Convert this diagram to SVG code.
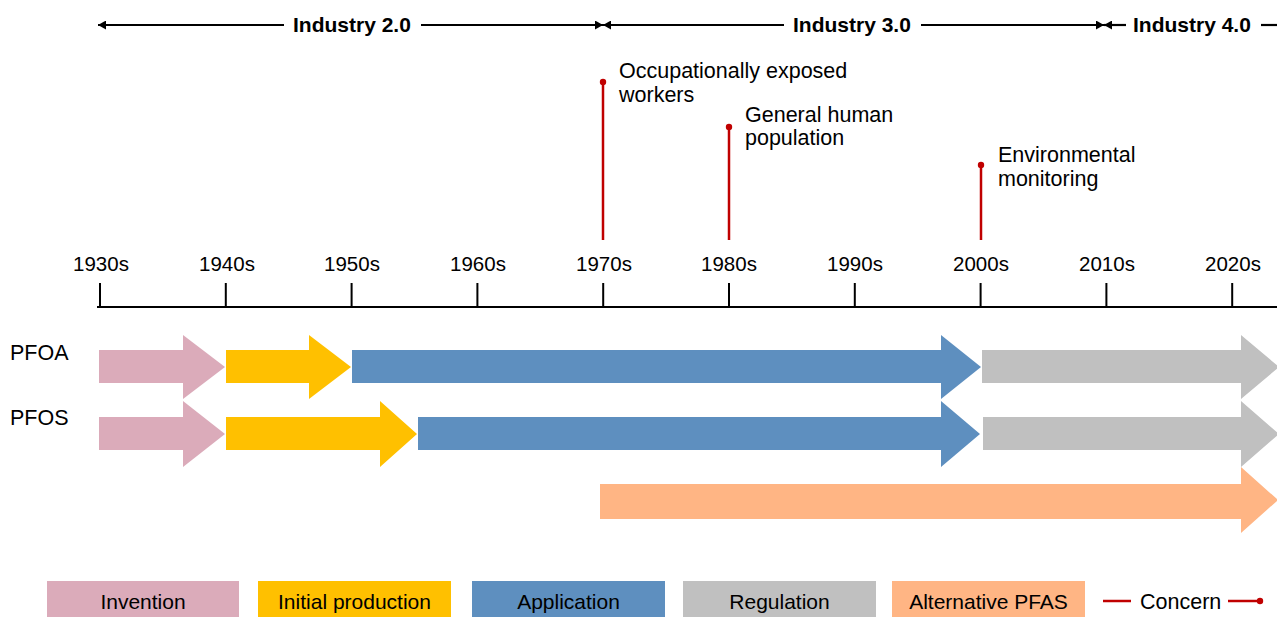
<svg xmlns="http://www.w3.org/2000/svg" width="1277" height="617" viewBox="0 0 1277 617">
  <style>
    text { font-family: "Liberation Sans", Arial, sans-serif; fill: #000; }
    .era { font-size: 21px; font-weight: bold; }
    .yr { font-size: 20.5px; text-anchor: middle; }
    .lbl { font-size: 21.5px; }
    .leg { font-size: 21px; text-anchor: middle; }
    .era-line { stroke: #000; stroke-width: 2.2; fill: none; }
    .axis { stroke: #000; stroke-width: 2; fill: none; }
    .concern { stroke: #C00000; stroke-width: 2.5; fill: none; }
    .inv { fill: #DBABBA; }
    .prod { fill: #FFC000; }
    .app { fill: #5E8FBF; }
    .reg { fill: #C0C0C0; }
    .alt { fill: #FFB584; }
  </style>
  <defs>
    <marker id="ahR" viewBox="0 0 8 8" refX="8" refY="4" markerWidth="8" markerHeight="9" markerUnits="userSpaceOnUse" orient="auto" preserveAspectRatio="none">
      <path d="M0,0 L8,4 L0,8 Z" fill="#000"/>
    </marker>
    <marker id="ahL" viewBox="0 0 8 8" refX="0" refY="4" markerWidth="8" markerHeight="9" markerUnits="userSpaceOnUse" orient="auto" preserveAspectRatio="none">
      <path d="M8,0 L0,4 L8,8 Z" fill="#000"/>
    </marker>
  </defs>

  <!-- era spans -->
  <g id="era-industry-2">
    <line class="era-line" x1="98" y1="25" x2="284" y2="25" marker-start="url(#ahL)"/>
    <text class="era" x="293" y="32">Industry 2.0</text>
    <line class="era-line" x1="421" y1="25" x2="603" y2="25" marker-end="url(#ahR)"/>
  </g>
  <g id="era-industry-3">
    <line class="era-line" x1="603" y1="25" x2="784" y2="25" marker-start="url(#ahL)"/>
    <text class="era" x="793" y="32">Industry 3.0</text>
    <line class="era-line" x1="921" y1="25" x2="1104" y2="25" marker-end="url(#ahR)"/>
  </g>
  <g id="era-industry-4">
    <line class="era-line" x1="1104" y1="25" x2="1126" y2="25" marker-start="url(#ahL)"/>
    <text class="era" x="1133" y="32">Industry 4.0</text>
    <line class="era-line" x1="1261" y1="25" x2="1277" y2="25"/>
  </g>

  <!-- concern markers -->
  <g id="concern-workers">
    <line class="concern" x1="603" y1="82" x2="603" y2="240"/>
    <circle cx="603" cy="82" r="3.2" fill="#C00000"/>
    <text class="lbl" x="619" y="78">Occupationally exposed</text>
    <text class="lbl" x="619" y="102">workers</text>
  </g>
  <g id="concern-population">
    <line class="concern" x1="729" y1="127" x2="729" y2="240"/>
    <circle cx="729" cy="127" r="3.2" fill="#C00000"/>
    <text class="lbl" x="745" y="122">General human</text>
    <text class="lbl" x="745" y="145">population</text>
  </g>
  <g id="concern-environment">
    <line class="concern" x1="981" y1="165" x2="981" y2="240"/>
    <circle cx="981" cy="165" r="3.2" fill="#C00000"/>
    <text class="lbl" x="998" y="162">Environmental</text>
    <text class="lbl" x="998" y="186">monitoring</text>
  </g>

  <!-- decade axis -->
  <g id="axis">
    <line class="axis" x1="97" y1="307" x2="1277" y2="307"/>
    <path class="axis" d="M100,283V307 M225.8,283V307 M351.6,283V307 M477.4,283V307 M603.2,283V307 M729,283V307 M854.8,283V307 M980.6,283V307 M1106.4,283V307 M1232.2,283V307"/>
    <text class="yr" x="101" y="271">1930s</text>
    <text class="yr" x="227" y="271">1940s</text>
    <text class="yr" x="352" y="271">1950s</text>
    <text class="yr" x="478" y="271">1960s</text>
    <text class="yr" x="604" y="271">1970s</text>
    <text class="yr" x="729" y="271">1980s</text>
    <text class="yr" x="855" y="271">1990s</text>
    <text class="yr" x="981" y="271">2000s</text>
    <text class="yr" x="1107" y="271">2010s</text>
    <text class="yr" x="1233" y="271">2020s</text>
  </g>

  <!-- PFOA lifecycle -->
  <g id="pfoa">
    <text class="lbl" x="10" y="360">PFOA</text>
    <path class="inv" d="M99,350H183V335L225,367L183,399V383H99Z"/>
    <path class="prod" d="M226,350H309V335L351,367L309,399V383H226Z"/>
    <path class="app" d="M352,350H941V335L981,367L941,399V383H352Z"/>
    <path class="reg" d="M982,350H1241V335L1279,367L1241,399V383H982Z"/>
  </g>

  <!-- PFOS lifecycle -->
  <g id="pfos">
    <text class="lbl" x="10" y="425">PFOS</text>
    <path class="inv" d="M99,417H183V401L225,434L183,467V450H99Z"/>
    <path class="prod" d="M226,417H380V401L417,434L380,467V450H226Z"/>
    <path class="app" d="M418,417H941V401L980,434L941,467V450H418Z"/>
    <path class="reg" d="M983,417H1241V401L1279,434L1241,467V450H983Z"/>
  </g>

  <!-- alternative PFAS -->
  <g id="alternative-pfas">
    <path class="alt" d="M600,484H1241V467L1278,500L1241,533V519H600Z"/>
  </g>

  <!-- legend -->
  <g id="legend">
    <rect class="inv" x="47" y="581" width="192" height="36"/>
    <text class="leg" x="143" y="609">Invention</text>
    <rect class="prod" x="258" y="581" width="193" height="36"/>
    <text class="leg" x="354.5" y="609">Initial production</text>
    <rect class="app" x="472" y="581" width="193" height="36"/>
    <text class="leg" x="568.5" y="609">Application</text>
    <rect class="reg" x="683" y="581" width="193" height="36"/>
    <text class="leg" x="779.5" y="609">Regulation</text>
    <rect class="alt" x="892" y="581" width="193" height="36"/>
    <text class="leg" x="988.5" y="609">Alternative PFAS</text>
    <line class="concern" x1="1103" y1="601" x2="1131" y2="601"/>
    <text class="lbl" x="1140" y="609">Concern</text>
    <line class="concern" x1="1228" y1="601" x2="1259" y2="601"/>
    <circle cx="1260" cy="601" r="3.2" fill="#C00000"/>
  </g>
</svg>
